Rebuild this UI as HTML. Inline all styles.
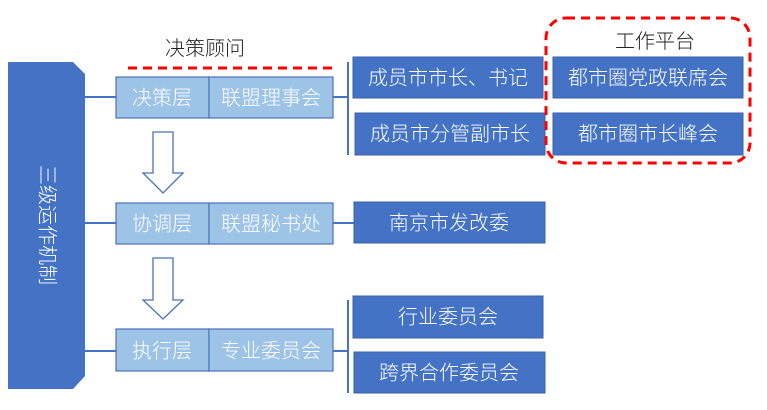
<!DOCTYPE html>
<html><head><meta charset="utf-8"><style>
body{margin:0;background:#fff}
svg text{font-family:"Liberation Sans","Noto Sans CJK SC",sans-serif;font-weight:300}
</style></head><body>
<svg width="767" height="405" viewBox="0 0 767 405" xmlns="http://www.w3.org/2000/svg">
<polygon points="8,62 73,62 85,74 85,376 73,389 8,389" fill="#4472C4"/>
<text x="46" y="225" fill="#fff" font-size="20" text-anchor="middle" transform="rotate(90 46 225)" dominant-baseline="middle">三级运作机制</text>
<g stroke="#4472C4" stroke-width="2" fill="none">
<line x1="85" y1="97" x2="116" y2="97"/><line x1="85" y1="223" x2="116" y2="223"/><line x1="85" y1="351" x2="116" y2="351"/>
<line x1="333" y1="97" x2="348" y2="97"/><line x1="348" y1="62" x2="348" y2="155"/>
<line x1="333" y1="223" x2="354" y2="223"/>
<line x1="333" y1="351" x2="348" y2="351"/><line x1="348" y1="300" x2="348" y2="393"/>
</g>
<g fill="#9DC3E6" stroke="#4A72B8" stroke-width="1.2">
<rect x="116" y="77" width="93" height="41"/><rect x="209" y="77" width="124" height="41"/>
<rect x="116" y="203" width="93" height="41"/><rect x="209" y="203" width="124" height="41"/>
<rect x="116" y="329" width="93" height="42"/><rect x="209" y="329" width="124" height="42"/>
</g>
<g fill="#fff" stroke="#4A72B8" stroke-width="1.3">
<polygon points="153,132 173,132 173,173 183,173 163,193 143,173 153,173"/>
<polygon points="153,258 173,258 173,300 183,300 163,319 143,300 153,300"/>
</g>
<g fill="#4472C4" stroke="#3A62A8" stroke-width="1">
<rect x="353" y="57" width="190" height="41"/><rect x="355" y="113" width="190" height="42"/>
<rect x="553" y="57" width="190" height="41"/><rect x="553" y="113" width="190" height="42"/>
<rect x="354" y="202" width="191" height="41"/>
<rect x="353" y="296" width="190" height="42"/><rect x="354" y="352" width="191" height="41"/>
</g>
<line x1="128" y1="68" x2="333" y2="68" stroke="#FF0000" stroke-width="3" stroke-dasharray="9,6"/>
<rect x="546" y="18" width="204" height="145" rx="20" fill="none" stroke="#FF0000" stroke-width="3" stroke-dasharray="9,6"/>
<text x="205" y="55" font-size="20" text-anchor="middle" fill="#222">决策顾问</text>
<text x="655" y="48" font-size="20" text-anchor="middle" fill="#222">工作平台</text>
<g font-size="20" fill="#fff" text-anchor="middle" dominant-baseline="middle">
<text x="162" y="99">决策层</text><text x="271" y="99">联盟理事会</text>
<text x="162" y="225">协调层</text><text x="271" y="225">联盟秘书处</text>
<text x="162" y="352">执行层</text><text x="271" y="352">专业委员会</text>
<text x="448" y="79">成员市市长、书记</text><text x="450" y="135">成员市分管副市长</text>
<text x="648" y="79">都市圈党政联席会</text><text x="648" y="135">都市圈市长峰会</text>
<text x="449" y="224">南京市发改委</text>
<text x="448" y="318">行业委员会</text><text x="449" y="374">跨界合作委员会</text>
</g>
</svg>
</body></html>
